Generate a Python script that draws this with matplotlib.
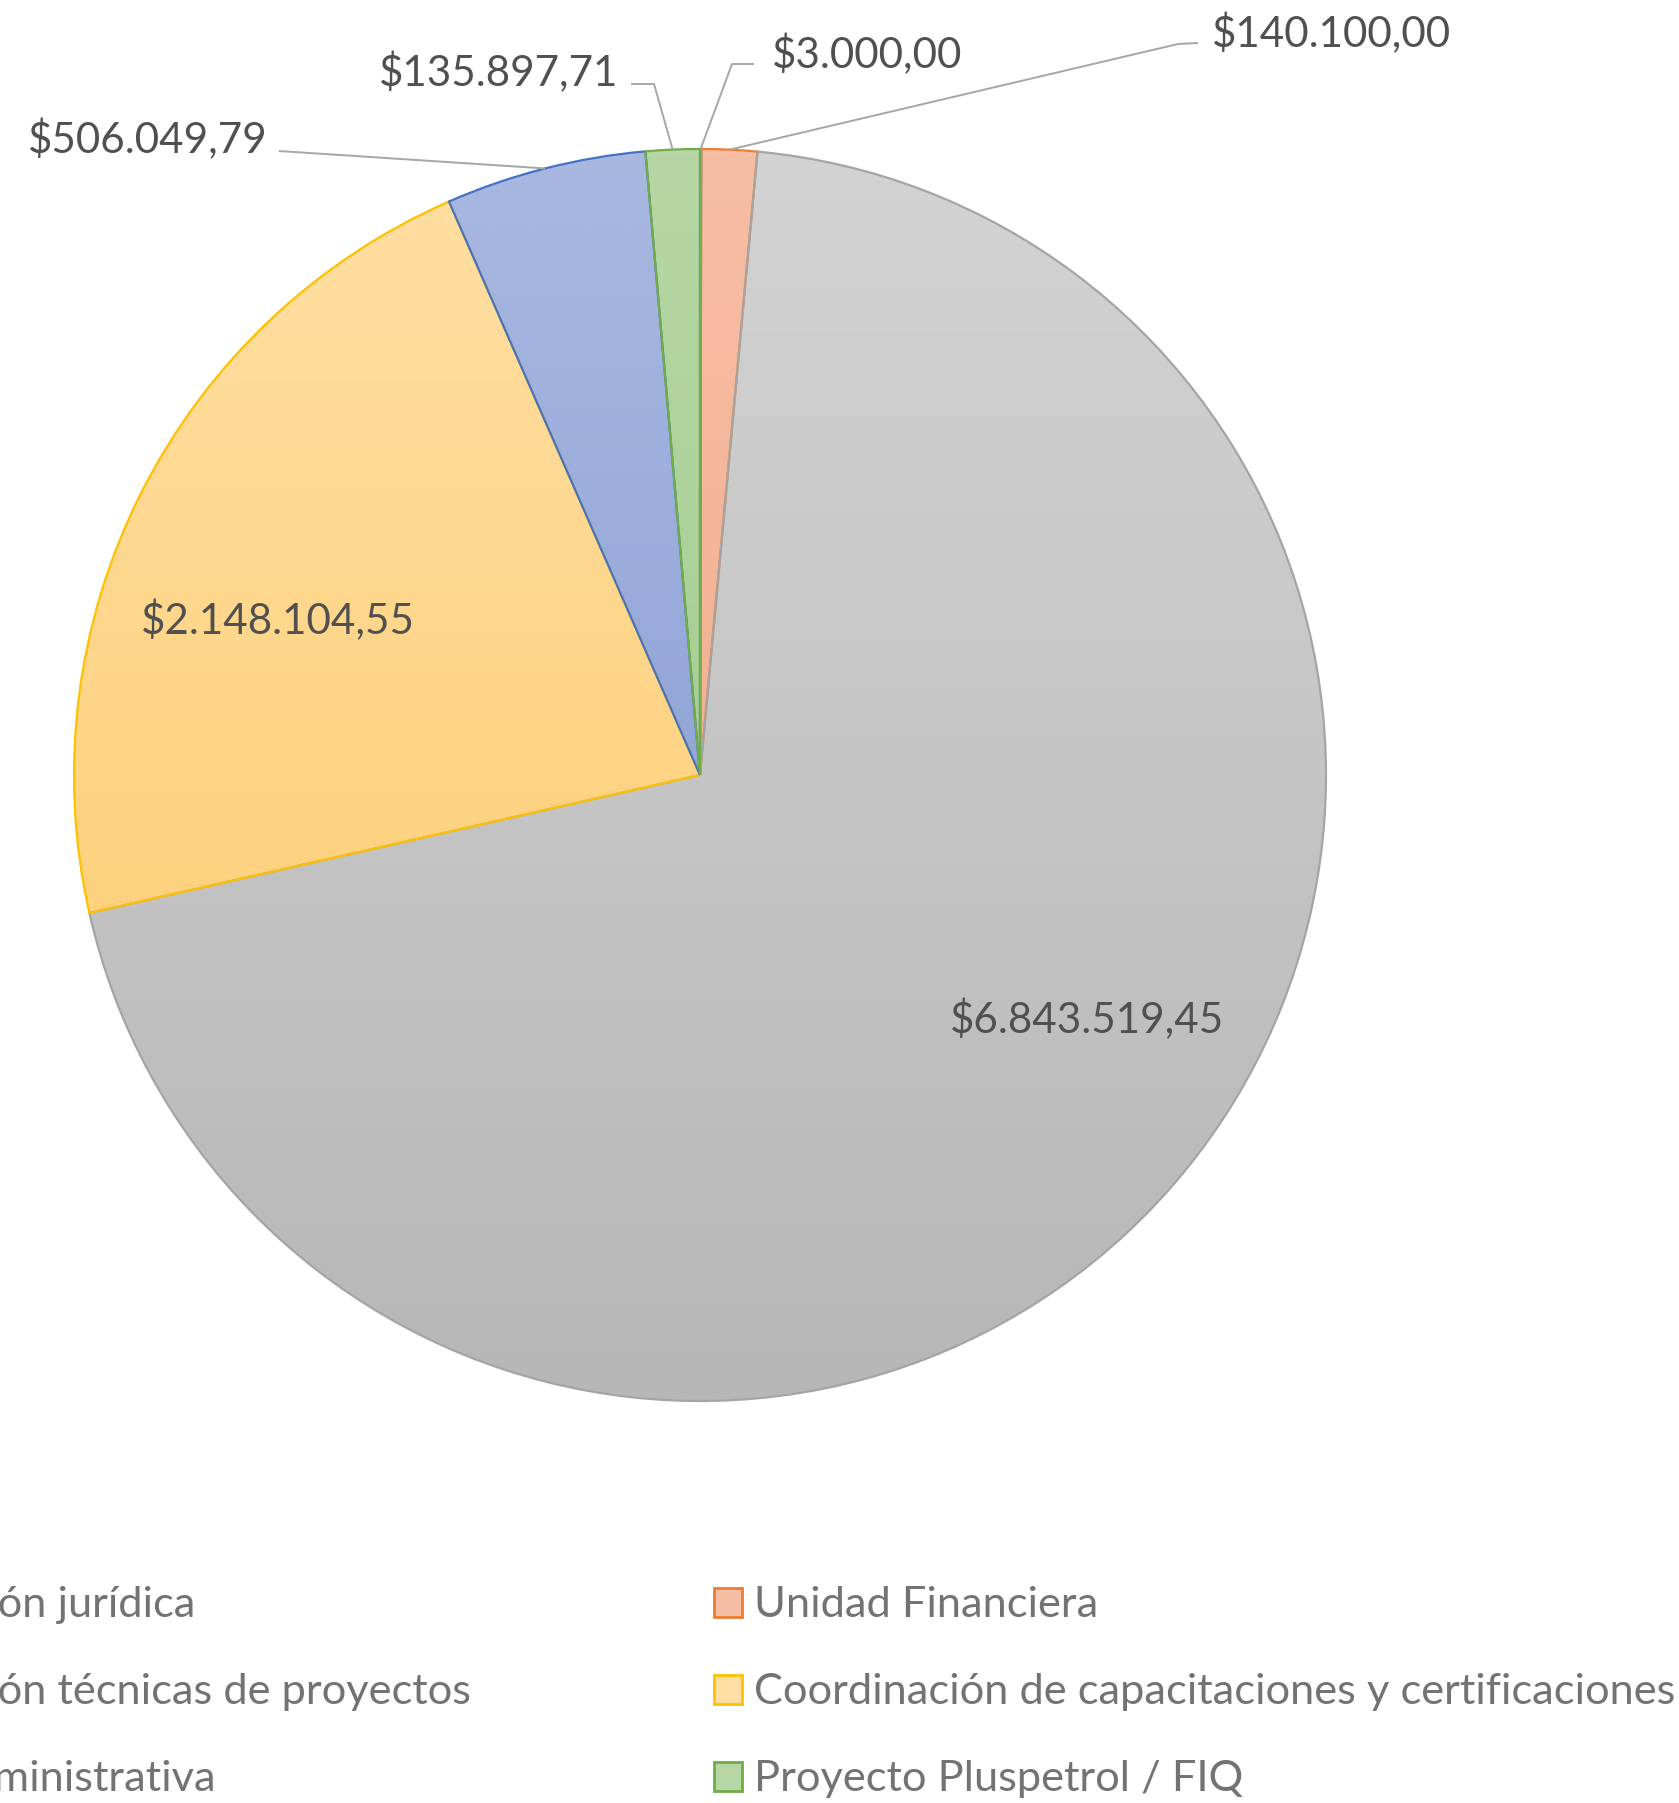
import numpy as np
import matplotlib
matplotlib.use("Agg")
import matplotlib.pyplot as plt
from matplotlib.colors import LinearSegmentedColormap
from matplotlib.patches import Rectangle

# data (series order = Excel order, pie starts at 12 o'clock going clockwise)
categories = ["Coordinación jurídica",
              "Unidad Financiera",
              "Coordinación técnicas de proyectos",
              "Coordinación de capacitaciones y certificaciones",
              "Unidad Administrativa",
              "Proyecto Pluspetrol / FIQ"]
amounts = [3000.00, 140100.00, 6843519.45, 2148104.55, 506049.79, 135897.71]

# styles
edge_colors = ["#4472C4", "#ED7D31", "#A5A5A5", "#FFC000", "#4472C4", "#70AD47"]
top_colors = ["#b4c7e7", "#f6bea5", "#d3d3d3", "#ffdfa3", "#a8b8e1", "#b6d7a5"]
bottom_colors = ["#8fa5d8", "#f0a47f", "#b7b7b7", "#fdc967", "#7d95cf", "#98c681"]

W, H = 1679, 1803
FONT = "Lato"
FS_LABEL = 30.3
FS_LEGEND = 31.2
LABEL_COLOR = "#505050"
LEGEND_COLOR = "#737373"
LINE_COLOR = "#A6A6A6"


def money(v):
    s = f"{v:,.2f}"
    return "$" + s.replace(",", "X").replace(".", ",").replace("X", ".")


def py(y):
    # pixel row (from top) -> axes y
    return H - y


fig = plt.figure(figsize=(W / 100, H / 100), dpi=100)
ax = fig.add_axes([0, 0, 1, 1])

cx, cy, r = 700, py(775), 626
wedges, _ = ax.pie(amounts, startangle=90, counterclock=False,
                   radius=r, center=(cx, cy),
                   wedgeprops=dict(linewidth=1.6))

grad = np.linspace(0, 1, 256).reshape(-1, 1)
for i, w in enumerate(wedges):
    cmap = LinearSegmentedColormap.from_list("g%d" % i, [top_colors[i], bottom_colors[i]])
    im = ax.imshow(grad, extent=(cx - r, cx + r, cy - r, cy + r), origin="upper",
                   cmap=cmap, aspect="auto", interpolation="bilinear", zorder=1)
    im.set_clip_path(w)
    w.set_facecolor("none")
    w.set_edgecolor(edge_colors[i])
    w.set_zorder(2 + i * 0.01)


def edge_point(w):
    mid = np.deg2rad((w.theta1 + w.theta2) / 2)
    return cx + r * np.cos(mid), cy + r * np.sin(mid)


# outer labels: (text x, baseline y, ha, leader points in pixels)
outer = {
    4: (268, 153, "right", [(279, 151)]),
    5: (618, 86, "right", [(631, 84), (654, 84)]),
    0: (772, 68, "left", [(754, 64), (732, 64)]),
    1: (1212, 47, "left", [(1198, 43), (1178, 44)]),
}
for i, (tx, ty, ha, pts) in outer.items():
    ax.text(tx, py(ty), money(amounts[i]), ha=ha, va="baseline",
            fontsize=FS_LABEL, family=FONT, color=LABEL_COLOR, zorder=5)
    ex, ey = edge_point(wedges[i])
    xs = [p[0] for p in pts] + [ex]
    ys = [py(p[1]) for p in pts] + [ey]
    ax.plot(xs, ys, color=LINE_COLOR, lw=1.4, zorder=4, solid_capstyle="butt")

# inner labels
inner = {3: (141, 634), 2: (950, 1033)}
for i, (tx, ty) in inner.items():
    ax.text(tx, py(ty), money(amounts[i]), ha="left", va="baseline",
            fontsize=FS_LABEL, family=FONT, color=LABEL_COLOR, zorder=5)

# legend, 2 columns filled row-wise; left column runs off the canvas
renderer = fig.canvas.get_renderer()
probe = ax.text(0, 0, "Coordinaci", fontsize=FS_LEGEND, family=FONT)
hidden = probe.get_window_extent(renderer).width
probe.remove()

col_text_x = [-hidden - 2, 754]
row_base = [1617, 1704, 1791]
box = 28
for k, name in enumerate(categories):
    row, col = k // 2, k % 2
    x = col_text_x[col]
    base = row_base[row]
    ax.add_patch(Rectangle((x - 40, py(base)), box, box + 1,
                           facecolor=top_colors[k], edgecolor=edge_colors[k],
                           lw=2, zorder=5))
    ax.text(x, py(base), name, ha="left", va="baseline",
            fontsize=FS_LEGEND, family=FONT, color=LEGEND_COLOR, zorder=5)

ax.set_xlim(0, W)
ax.set_ylim(0, H)
ax.set_aspect("equal")
ax.axis("off")

fig.savefig("out.png", dpi=100, facecolor="white")
